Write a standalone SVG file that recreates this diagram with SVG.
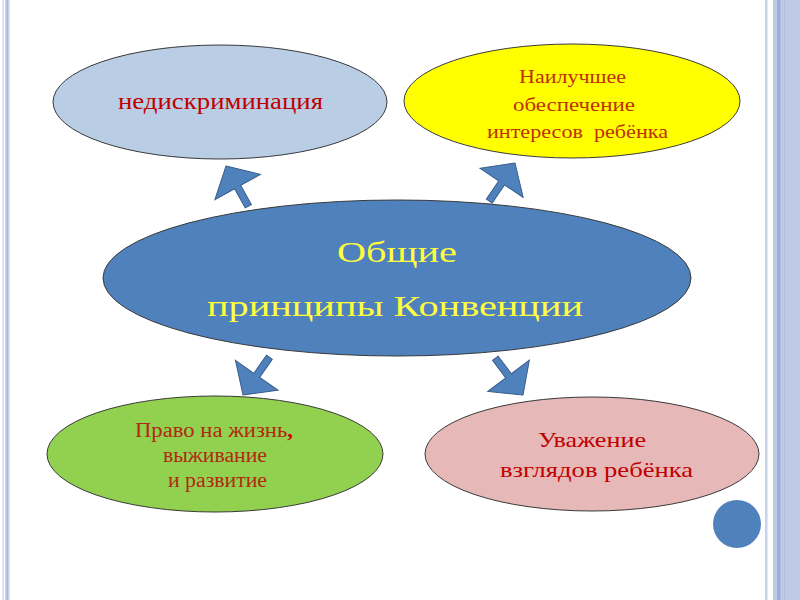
<svg xmlns="http://www.w3.org/2000/svg" xmlns:xlink="http://www.w3.org/1999/xlink" width="800" height="600" viewBox="0 0 800 600">
<style>
.node{stroke:#3a3a3a;stroke-width:1}
.t{font-family:"Liberation Serif","Times New Roman",serif;text-anchor:middle}
.red{fill:#c00000}
.arrow{fill:#4f81bd;stroke:#385d8a;stroke-width:1}
</style>
<defs>
<polygon id="arr" points="0,0 26,24 3.5,24 3.5,46 -3.5,46 -3.5,24 -26,24"/>
</defs>
<rect width="800" height="600" fill="#ffffff"/>
<g id="border">
<rect x="2.5" y="0" width="1.5" height="600" fill="#d3dcef"/>
<rect x="5" y="0" width="4.5" height="600" fill="#c4d1ea"/>
<rect x="6.7" y="0" width="1.3" height="600" fill="#a9bbdf"/>
<rect x="765" y="0" width="2.5" height="600" fill="#c8d2e8"/>
<rect x="773" y="0" width="27" height="600" fill="#bfcbe6"/>
<rect x="777" y="0" width="3.5" height="600" fill="#9db0d8"/>
<rect x="784" y="0" width="1" height="600" fill="#aebde0"/>
</g>
<g id="connectors">
<use xlink:href="#arr" class="arrow" transform="translate(226,166) rotate(-29)"/>
<use xlink:href="#arr" class="arrow" transform="translate(515,163) rotate(34)"/>
<use xlink:href="#arr" class="arrow" transform="translate(243,395) rotate(-145)"/>
<use xlink:href="#arr" class="arrow" transform="translate(523,395) rotate(143)"/>
</g>
<g id="center">
<ellipse class="node" cx="397" cy="278" rx="294" ry="78" fill="#4f81bd"/>
<text class="t" x="397" y="262" font-size="30" fill="#ffff40" textLength="120" lengthAdjust="spacingAndGlyphs">Общие</text>
<text class="t" x="395" y="316" font-size="30" fill="#ffff40" textLength="376" lengthAdjust="spacingAndGlyphs">принципы Конвенции</text>
</g>
<g id="nondiscrimination">
<ellipse class="node" cx="220" cy="102" rx="167" ry="57" fill="#b9cde5"/>
<text class="t red" x="220.5" y="109" font-size="23" textLength="205" lengthAdjust="spacingAndGlyphs">недискриминация</text>
</g>
<g id="best-interests">
<ellipse class="node" cx="572" cy="101" rx="168" ry="57" fill="#ffff00"/>
<text class="t" x="572.5" y="83" font-size="19" fill="#c03000" textLength="107" lengthAdjust="spacingAndGlyphs">Наилучшее</text>
<text class="t" x="574" y="111" font-size="19" fill="#c03000" textLength="122" lengthAdjust="spacingAndGlyphs">обеспечение</text>
<text class="t" x="577.5" y="138" font-size="19" fill="#c03000" xml:space="preserve" textLength="181" lengthAdjust="spacingAndGlyphs">интересов  ребёнка</text>
</g>
<g id="right-to-life">
<ellipse class="node" cx="215" cy="454" rx="168" ry="58" fill="#92d050"/>
<text class="t" x="214" y="437" font-size="20" fill="#b02a10" textLength="158" lengthAdjust="spacingAndGlyphs">Право на жизнь<tspan fill="#d00000" font-weight="bold">,</tspan></text>
<text class="t" x="215" y="462" font-size="20" fill="#b02a10" textLength="104" lengthAdjust="spacingAndGlyphs">выживание</text>
<text class="t" x="217.5" y="487" font-size="20" fill="#b02a10" textLength="99" lengthAdjust="spacingAndGlyphs">и развитие</text>
</g>
<g id="respect-views">
<ellipse class="node" cx="592" cy="454" rx="167" ry="57" fill="#e6b9b8"/>
<text class="t red" x="592" y="447" font-size="21" textLength="108" lengthAdjust="spacingAndGlyphs">Уважение</text>
<text class="t red" x="596.5" y="477" font-size="21" textLength="193" lengthAdjust="spacingAndGlyphs">взглядов ребёнка</text>
</g>
<circle cx="737" cy="524" r="24" fill="#4f81bd"/>
</svg>
